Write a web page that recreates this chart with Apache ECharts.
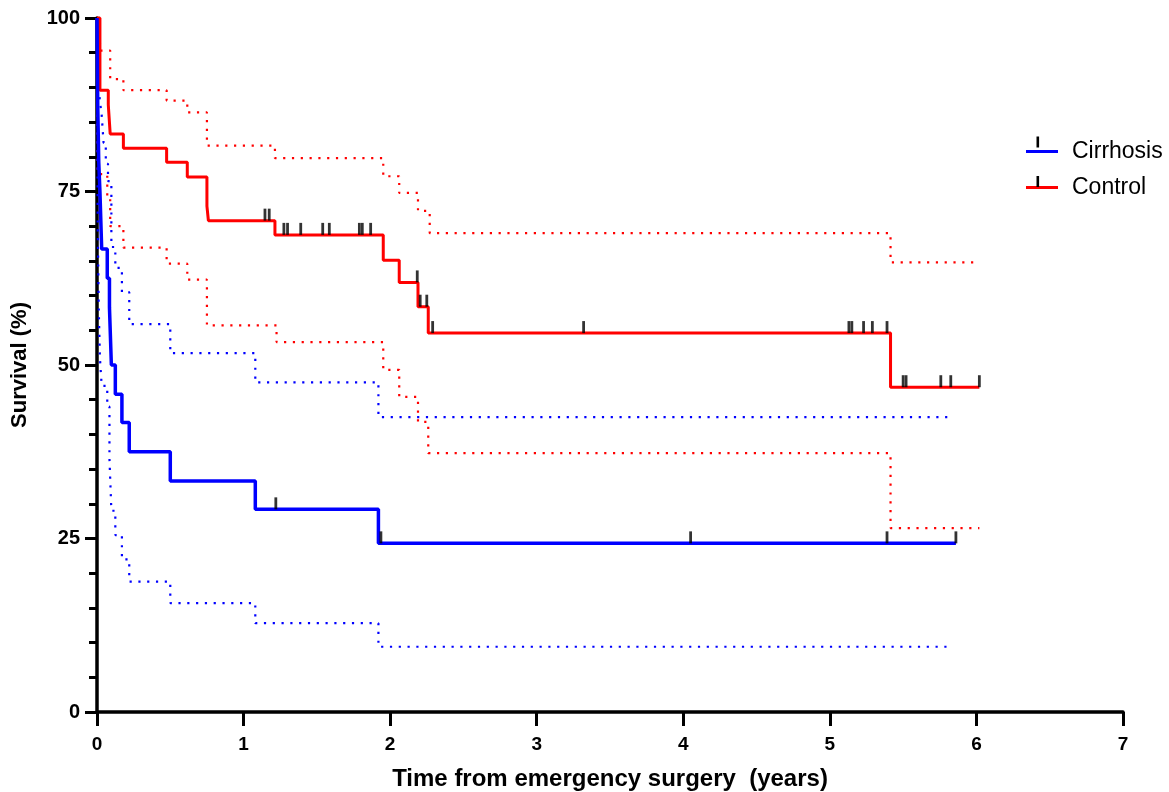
<!DOCTYPE html>
<html>
<head>
<meta charset="utf-8">
<script src="https://cdn.jsdelivr.net/npm/echarts@6/dist/echarts.min.js"></script>
<style>
  html, body { margin: 0; padding: 0; background: #fff; }
  #main { width: 1169px; height: 792px; }
</style>
</head>
<body>
<div id="main"></div>
<script>
// Kaplan-Meier: time in years, survival in %
var controlTimes = [0, 0.02, 0.077, 0.09, 0.18, 0.475, 0.616, 0.75, 0.76, 1.214, 1.953, 2.062, 2.19, 2.26, 5.414, 6.02];
var controlSurv  = [100, 89.6, 87.5, 83.3, 81.25, 79.2, 77.1, 72.9, 70.8, 68.75, 65.1, 61.9, 58.4, 54.6, 46.8, 46.8];
var controlUpperTimes = [0, 0.005, 0.02, 0.09, 0.18, 0.475, 0.616, 0.75, 1.214, 1.953, 2.062, 2.19, 2.27, 5.414, 6.02];
var controlUpper      = [100, 97, 95.3, 91.2, 89.6, 88.1, 86.4, 81.6, 79.8, 77.2, 74.8, 72.2, 69.0, 64.8, 64.8];
var controlLowerTimes = [0, 0.005, 0.07, 0.09, 0.18, 0.475, 0.616, 0.75, 1.225, 1.953, 2.062, 2.19, 2.26, 5.414, 6.02];
var controlLower      = [100, 77.5, 74, 70, 66.9, 64.6, 62.3, 55.7, 53.3, 49.3, 45.4, 41.8, 37.3, 26.5, 26.5];
var controlCensored = [1.146, 1.175, 1.275, 1.30, 1.39, 1.54, 1.585, 1.79, 1.81, 1.867, 2.185,
                       2.205, 2.25, 2.29, 3.32, 5.13, 5.15, 5.23, 5.29, 5.39, 5.50, 5.52, 5.757, 5.825, 6.02];

var cirrhosisTimes = [0, 0.005, 0.012, 0.02, 0.032, 0.07, 0.085, 0.098, 0.125, 0.17, 0.22, 0.5, 1.08, 1.92, 5.86];
var cirrhosisSurv  = [100, 87.5, 79.2, 75.0, 66.7, 62.5, 58.3, 50.0, 45.8, 41.7, 37.5, 33.3, 29.2, 24.3, 24.3];
var cirrhosisUpperTimes = [0, 0.005, 0.012, 0.02, 0.032, 0.045, 0.06, 0.075, 0.098, 0.125, 0.17, 0.22, 0.5, 1.08, 1.92, 5.82];
var cirrhosisUpper      = [100, 94, 90, 88, 86, 82, 79, 76.5, 67, 64, 60.5, 55.9, 51.7, 47.5, 42.5, 42.5];
var cirrhosisLowerTimes = [0, 0.005, 0.012, 0.02, 0.032, 0.07, 0.085, 0.098, 0.125, 0.17, 0.22, 0.5, 1.08, 1.92, 5.82];
var cirrhosisLower      = [100, 70, 58, 51, 47, 44, 36.5, 29, 25.5, 22, 18.8, 15.7, 12.8, 9.4, 9.4];
var cirrhosisCensored = [1.22, 1.937, 4.05, 5.39, 5.86];

var xTicks = [0, 1, 2, 3, 4, 5, 6, 7];
var yTicks = [0, 25, 50, 75, 100];

var RED = '#ff0000', BLUE = '#0000ff';
var FONT = 'Liberation Sans, Arial, sans-serif';

function pairs(ts, vs) {
	return ts.map(function (t, i) { return [t, vs[i]]; });
}
function censorPoints(cens, ts, vs) {
	return cens.map(function (c) {
		var v = vs[0];
		for (var i = 0; i < ts.length; i++) {
			if (ts[i] <= c) v = vs[i];
		}
		return [c, v];
	});
}

function kmLine(name, color, width, data) {
	return {
		name: name, type: 'line', step: 'end', data: data,
		symbol: 'none', clip: false, z: 4,
		lineStyle: {color: color, width: width},
		itemStyle: {color: color}
	};
}
function ciLine(name, color, data) {
	return {
		name: name, type: 'line', step: 'end', data: data,
		symbol: 'none', clip: false, z: 3, silent: true,
		lineStyle: {color: color, width: 2.2, type: [2.2, 6.6]}
	};
}
function censorSeries(name, data) {
	return {
		name: name, type: 'scatter', data: data, z: 5,
		symbol: 'rect', symbolSize: [2.8, 12], symbolOffset: [0, -6],
		itemStyle: {color: '#000'}, silent: true
	};
}

var option = {
	backgroundColor: '#fff',
	animation: false,
	grid: {left: 97, right: 46, top: 18, bottom: 80, containLabel: false, outerBoundsMode: 'none'},
	legend: {
		data: ['Cirrhosis', 'Control'],
		orient: 'vertical',
		left: 1021, top: 135,
		icon: 'rect', itemWidth: 32, itemHeight: 3, itemGap: 13,
		textStyle: {fontFamily: FONT, fontSize: 23, color: '#000', padding: [0, 0, 0, 9]}
	},
	graphic: [
		{type: 'rect', shape: {x: 1036.5, y: 136.5, width: 2.6, height: 11}, style: {fill: '#000'}, z: 100},
		{type: 'rect', shape: {x: 1036.5, y: 176, width: 2.6, height: 11}, style: {fill: '#000'}, z: 100}
	],
	xAxis: {
		type: 'value', min: xTicks[0], max: xTicks[xTicks.length - 1], interval: 1,
		name: 'Time from emergency surgery  (years)',
		nameLocation: 'middle', nameGap: 55,
		nameTextStyle: {fontFamily: FONT, fontSize: 24, fontWeight: 'bold', color: '#000'},
		axisLine: {lineStyle: {color: '#000', width: 3.5}},
		axisTick: {show: true, length: 14, lineStyle: {color: '#000', width: 3}},
		axisLabel: {fontFamily: FONT, fontSize: 19, fontWeight: 'bold', color: '#000', margin: 23},
		splitLine: {show: false}
	},
	yAxis: {
		type: 'value', min: yTicks[0], max: yTicks[yTicks.length - 1], interval: 25,
		name: 'Survival (%)',
		nameLocation: 'middle', nameGap: 66,
		nameTextStyle: {fontFamily: FONT, fontSize: 22, fontWeight: 'bold', color: '#000'},
		axisLine: {show: true, lineStyle: {color: '#000', width: 3.5}},
		axisTick: {show: true, length: 12, lineStyle: {color: '#000', width: 3}},
		minorTick: {show: true, splitNumber: 5, length: 8, lineStyle: {color: '#000', width: 3}},
		axisLabel: {fontFamily: FONT, fontSize: 20, fontWeight: 'bold', color: '#000', margin: 17},
		splitLine: {show: false}
	},
	series: [
		ciLine('Control upper', RED, pairs(controlUpperTimes, controlUpper)),
		ciLine('Control lower', RED, pairs(controlLowerTimes, controlLower)),
		ciLine('Cirrhosis upper', BLUE, pairs(cirrhosisUpperTimes, cirrhosisUpper)),
		ciLine('Cirrhosis lower', BLUE, pairs(cirrhosisLowerTimes, cirrhosisLower)),
		kmLine('Control', RED, 3, pairs(controlTimes, controlSurv)),
		kmLine('Cirrhosis', BLUE, 3.5, pairs(cirrhosisTimes, cirrhosisSurv)),
		censorSeries('Control censored', censorPoints(controlCensored, controlTimes, controlSurv)),
		censorSeries('Cirrhosis censored', censorPoints(cirrhosisCensored, cirrhosisTimes, cirrhosisSurv))
	]
};

var myChart = echarts.init(document.getElementById('main'));
myChart.setOption(option);
</script>
</body>
</html>
